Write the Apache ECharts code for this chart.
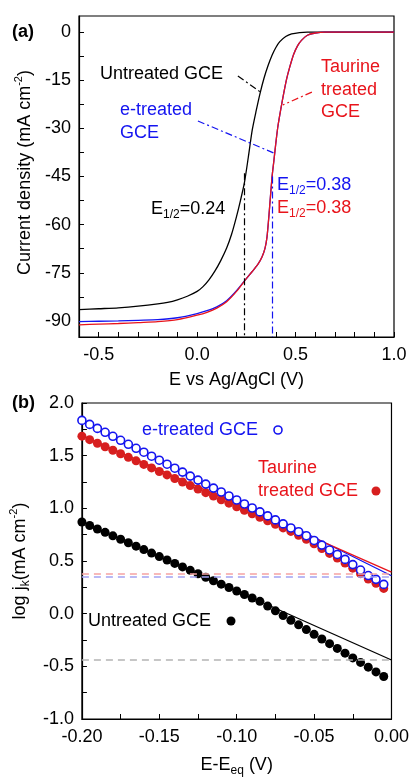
<!DOCTYPE html>
<html lang="en">
<head>
    <meta charset="UTF-8">
    <title>LSV and Tafel plots</title>
    <script src="https://cdn.jsdelivr.net/npm/echarts@6/dist/echarts.min.js"></script>
    <style>
        body { margin: 0; padding: 0; background: #fff; }
        #chart { width: 412px; height: 778px; }
    </style>
</head>
<body>
<div id="chart"></div>
<script>
    // (a) LSV curves, potential in V vs Ag/AgCl, current density in mA cm-2
    const untreatedE = [-0.6, -0.5, -0.4, -0.3, -0.2, -0.15, -0.1, -0.05, 0, 0.03, 0.06, 0.09, 0.12, 0.15, 0.175, 0.2, 0.22, 0.24, 0.26, 0.28, 0.3, 0.32, 0.34, 0.36, 0.38, 0.4, 0.42, 0.45, 0.48, 0.52, 0.56, 0.6, 0.8, 1.0];
    const untreatedJ = [-86.5, -86.2, -85.9, -85.4, -84.7, -84.2, -83.4, -82.3, -80.8, -79.3, -77.2, -74.5, -71.2, -67.3, -63.0, -57.5, -52.5, -47.0, -39.0, -30.5, -24.5, -19.0, -14.3, -10.5, -7.3, -4.8, -3.0, -1.4, -0.6, -0.15, 0, 0, 0, 0];

    const sweepE = [-0.6, -0.5, -0.4, -0.3, -0.2, -0.1, 0, 0.05, 0.1, 0.15, 0.2, 0.25, 0.28, 0.31, 0.33, 0.345, 0.355, 0.365, 0.38, 0.39, 0.4, 0.41, 0.425, 0.44, 0.455, 0.47, 0.49, 0.51, 0.53, 0.56, 0.6, 0.65, 0.8, 1.0];
    const etreatedJ = [-90.2, -90.1, -90.0, -89.8, -89.6, -89.0, -87.7, -86.8, -85.6, -83.7, -80.6, -76.8, -74.6, -72.2, -70.0, -67.3, -63.8, -57.0, -45.5, -40.0, -34.5, -29.5, -24.0, -19.0, -14.5, -11.0, -7.0, -4.3, -2.6, -1.0, -0.3, 0, 0, 0];
    const taurineJ = [-91.2, -91.0, -90.8, -90.5, -90.2, -89.6, -88.2, -87.3, -86.0, -84.0, -80.8, -76.8, -74.6, -72.2, -70.0, -67.3, -63.8, -57.0, -45.5, -40.0, -34.5, -29.5, -24.0, -19.0, -14.5, -11.0, -7.0, -4.3, -2.6, -1.0, -0.3, 0, 0, 0];

    const halfWave = { untreated: 0.24, treated: 0.38 };

    // (b) kinetic current, E - Eeq in V
    const kineticE = [-0.200, -0.195, -0.190, -0.185, -0.180, -0.175, -0.170, -0.165, -0.160, -0.155,
                      -0.150, -0.145, -0.140, -0.135, -0.130, -0.125, -0.120, -0.115, -0.110, -0.105,
                      -0.100, -0.095, -0.090, -0.085, -0.080, -0.075, -0.070, -0.065, -0.060, -0.055,
                      -0.050, -0.045, -0.040, -0.035, -0.030, -0.025, -0.020, -0.015, -0.010, -0.005];
    const etreatedLogJ = [1.835, 1.797, 1.759, 1.722, 1.684, 1.646, 1.608, 1.570, 1.533, 1.495,
                          1.457, 1.419, 1.381, 1.344, 1.306, 1.268, 1.230, 1.192, 1.155, 1.117,
                          1.079, 1.041, 1.003, 0.966, 0.928, 0.890, 0.852, 0.814, 0.778, 0.740,
                          0.695, 0.651, 0.605, 0.562, 0.515, 0.466, 0.414, 0.362, 0.326, 0.278];
    const taurineLogJ = [1.685, 1.652, 1.618, 1.585, 1.551, 1.518, 1.484, 1.451, 1.417, 1.384,
                         1.350, 1.317, 1.283, 1.250, 1.216, 1.183, 1.149, 1.116, 1.082, 1.049,
                         1.015, 0.982, 0.948, 0.915, 0.881, 0.848, 0.814, 0.781, 0.745, 0.706,
                         0.663, 0.618, 0.572, 0.528, 0.481, 0.432, 0.380, 0.328, 0.288, 0.240];
    const untreatedLogJ = [0.870, 0.837, 0.804, 0.772, 0.739, 0.706, 0.673, 0.641, 0.608, 0.575,
                           0.542, 0.510, 0.477, 0.444, 0.411, 0.379, 0.346, 0.313, 0.280, 0.248,
                           0.215, 0.182, 0.149, 0.117, 0.072, 0.027, -0.018, -0.063, -0.106, -0.151,
                           -0.196, -0.241, -0.285, -0.330, -0.375, -0.420, -0.463, -0.508, -0.553, -0.597];

    // Tafel fit lines (ends at -0.20 and 0.00 V) and the level of each fit at E = Eeq
    const fitE = [-0.2, 0];
    const etreatedFit = [1.82, 0.36];
    const taurineFit = [1.69, 0.395];
    const untreatedFit = [0.87, -0.44];
    const eqLevels = { etreated: 0.35, taurine: 0.383, untreated: -0.44 };

    const FONT = 'Liberation Sans, Arial, sans-serif';
    const RED = '#e8141b';
    const BLUE = '#1414f0';
    const dashDot = [7, 3, 2, 3];

    const pairs = (xs, ys) => xs.map((x, i) => [x, ys[i]]);
    const everyHalf = (v, digits) => Math.abs(v * 2 - Math.round(v * 2)) < 1e-6 ? v.toFixed(digits) : '';

    const tickLabel = { color: '#000', fontSize: 18, fontFamily: FONT };
    const axisLine = { show: true, onZero: false, lineStyle: { color: '#000', width: 1.2 } };
    const nameRich = {
        m: { fontSize: 18, fontFamily: FONT, color: '#000', lineHeight: 24 },
        sup: { fontSize: 11, fontFamily: FONT, color: '#000', verticalAlign: 'top', lineHeight: 11 },
        sub: { fontSize: 12, fontFamily: FONT, color: '#000', verticalAlign: 'bottom', lineHeight: 12 }
    };

    function subText(color) {
        return {
            m: { fontSize: 18, fontFamily: FONT, fill: color, lineHeight: 24 },
            s: { fontSize: 12, fontFamily: FONT, fill: color, verticalAlign: 'bottom', lineHeight: 12 }
        };
    }

    const chart = echarts.init(document.getElementById('chart'), null, { renderer: 'canvas' });

    const option = {
        animation: false,
        backgroundColor: '#fff',
        grid: [
            { left: 79, top: 16, width: 315, height: 321, show: true, borderColor: '#000', borderWidth: 1.2 },
            { left: 79, top: 403, width: 315, height: 321, show: true, borderColor: '#000', borderWidth: 1.2 }
        ],
        xAxis: [
            {
                gridIndex: 0, type: 'value', min: -0.6, max: 1.0, interval: 0.1,
                axisLine: axisLine,
                axisTick: { inside: true, length: 5, lineStyle: { color: '#000' } },
                axisLabel: Object.assign({ margin: 9, formatter: v => everyHalf(v, 1) }, tickLabel),
                splitLine: { show: false },
                name: 'E vs Ag/AgCl (V)', nameLocation: 'middle', nameGap: 34,
                nameTextStyle: { fontSize: 18, fontFamily: FONT, color: '#000' }
            },
            {
                gridIndex: 1, type: 'value', min: -0.2, max: 0, interval: 0.025,
                axisLine: axisLine,
                axisTick: { inside: true, length: 5, lineStyle: { color: '#000' } },
                axisLabel: Object.assign({ margin: 9, formatter: v => everyHalf(v * 10, 2) && (Math.abs(v) < 1e-9 ? '0.00' : v.toFixed(2)) }, tickLabel),
                splitLine: { show: false },
                name: '{m|E-E}{sub|eq}{m| (V)}', nameLocation: 'middle', nameGap: 34,
                nameTextStyle: { rich: nameRich }
            }
        ],
        yAxis: [
            {
                gridIndex: 0, type: 'value', min: -95, max: 5,
                axisLine: axisLine,
                axisTick: { inside: true, length: 5, lineStyle: { color: '#000' },
                            customValues: [0, -7.5, -15, -22.5, -30, -37.5, -45, -52.5, -60, -67.5, -75, -82.5, -90] },
                axisLabel: Object.assign({ margin: 8, customValues: [0, -15, -30, -45, -60, -75, -90] }, tickLabel),
                splitLine: { show: false },
                name: '{m|Current density (mA cm}{sup|-2}{m|)}', nameLocation: 'middle', nameGap: 42,
                nameTextStyle: { rich: nameRich, padding: [0, 0, 0, 8] }
            },
            {
                gridIndex: 1, type: 'value', min: -1, max: 2, interval: 0.25,
                axisLine: axisLine,
                axisTick: { inside: true, length: 5, lineStyle: { color: '#000' } },
                axisLabel: Object.assign({ margin: 8, formatter: v => everyHalf(v, 1) }, tickLabel),
                splitLine: { show: false },
                name: '{m|log j}{sub|k}{m|(mA cm}{sup|-2}{m|)}', nameLocation: 'middle', nameGap: 42,
                nameTextStyle: { rich: nameRich }
            }
        ],
        series: [
            // panel (a)
            {
                name: 'Untreated GCE', type: 'line', xAxisIndex: 0, yAxisIndex: 0,
                data: pairs(untreatedE, untreatedJ), showSymbol: false, smooth: 0.25,
                lineStyle: { color: '#000', width: 1.3 },
                markLine: {
                    symbol: 'none', silent: true, label: { show: false },
                    lineStyle: { color: '#000', width: 1.2, type: dashDot },
                    data: [
                        [{ coord: [0.207, -13.7] }, { coord: [0.329, -19.0] }],
                        [{ coord: [halfWave.untreated, -44] }, { coord: [halfWave.untreated, -95] }]
                    ]
                }
            },
            {
                name: 'e-treated GCE', type: 'line', xAxisIndex: 0, yAxisIndex: 0,
                data: pairs(sweepE, etreatedJ), showSymbol: false, smooth: 0.25,
                lineStyle: { color: BLUE, width: 1.3 },
                markLine: {
                    symbol: 'none', silent: true, label: { show: false },
                    lineStyle: { color: BLUE, width: 1.2, type: dashDot },
                    data: [
                        [{ coord: [0.004, -27.7] }, { coord: [0.39, -37.7] }],
                        [{ coord: [halfWave.treated, -45] }, { coord: [halfWave.treated, -95] }]
                    ]
                }
            },
            {
                name: 'Taurine treated GCE', type: 'line', xAxisIndex: 0, yAxisIndex: 0,
                data: pairs(sweepE, taurineJ), showSymbol: false, smooth: 0.25,
                lineStyle: { color: RED, width: 1.3 },
                markLine: {
                    symbol: 'none', silent: true, label: { show: false },
                    lineStyle: { color: RED, width: 1.2, type: dashDot },
                    data: [[{ coord: [0.583, -18.7] }, { coord: [0.436, -22.7] }]]
                }
            },
            // panel (b) fit lines and reference levels
            {
                type: 'line', xAxisIndex: 1, yAxisIndex: 1, z: 1,
                data: pairs(fitE, untreatedFit), showSymbol: false,
                lineStyle: { color: '#000', width: 1.3 },
                markLine: {
                    symbol: 'none', silent: true, label: { show: false },
                    data: [
                        { yAxis: eqLevels.untreated, lineStyle: { color: '#b4b4b4', width: 1.5, type: [7, 5] } },
                        { yAxis: eqLevels.taurine, lineStyle: { color: '#f5a3a3', width: 1.5, type: [7, 5] } },
                        { yAxis: eqLevels.etreated, lineStyle: { color: '#a3a3f2', width: 1.5, type: [7, 5] } }
                    ]
                }
            },
            {
                type: 'line', xAxisIndex: 1, yAxisIndex: 1, z: 1,
                data: pairs(fitE, etreatedFit), showSymbol: false,
                lineStyle: { color: BLUE, width: 1.3 }
            },
            {
                type: 'line', xAxisIndex: 1, yAxisIndex: 1, z: 1,
                data: pairs(fitE, taurineFit), showSymbol: false,
                lineStyle: { color: RED, width: 1.3 }
            },
            // panel (b) points
            {
                type: 'scatter', xAxisIndex: 1, yAxisIndex: 1, z: 3,
                data: pairs(kineticE, untreatedLogJ), symbolSize: 9,
                itemStyle: { color: '#000', opacity: 1 }
            },
            {
                type: 'scatter', xAxisIndex: 1, yAxisIndex: 1, z: 3,
                data: pairs(kineticE, taurineLogJ), symbolSize: 9,
                itemStyle: { color: '#d71f1f', opacity: 1 }
            },
            {
                type: 'scatter', xAxisIndex: 1, yAxisIndex: 1, z: 4,
                data: pairs(kineticE, etreatedLogJ), symbolSize: 8,
                itemStyle: { color: '#fff', borderColor: BLUE, borderWidth: 1.6, opacity: 1 }
            }
        ],
        graphic: [
            { type: 'text', x: 12, y: 32, style: { text: '(a)', font: 'bold 18px ' + FONT, fill: '#000', textVerticalAlign: 'middle' } },
            { type: 'text', x: 12, y: 403, style: { text: '(b)', font: 'bold 18px ' + FONT, fill: '#000', textVerticalAlign: 'middle' } },

            { type: 'text', x: 100, y: 74, style: { text: 'Untreated GCE', font: '18px ' + FONT, fill: '#000', textVerticalAlign: 'middle' } },
            { type: 'text', x: 321, y: 56, style: { text: 'Taurine\ntreated\nGCE', font: '18px ' + FONT, fill: RED, lineHeight: 22.5, textVerticalAlign: 'top' } },
            { type: 'text', x: 120, y: 99, style: { text: 'e-treated\nGCE', font: '18px ' + FONT, fill: BLUE, lineHeight: 22.5, textVerticalAlign: 'top' } },
            { type: 'text', x: 277, y: 185, style: { text: '{m|E}{s|1/2}{m|=0.38}', rich: subText(BLUE), textVerticalAlign: 'middle' } },
            { type: 'text', x: 277, y: 208, style: { text: '{m|E}{s|1/2}{m|=0.38}', rich: subText(RED), textVerticalAlign: 'middle' } },
            { type: 'text', x: 151, y: 209, style: { text: '{m|E}{s|1/2}{m|=0.24}', rich: subText('#000'), textVerticalAlign: 'middle' } },

            { type: 'text', x: 142, y: 430, style: { text: 'e-treated GCE', font: '18px ' + FONT, fill: BLUE, textVerticalAlign: 'middle' } },
            { type: 'circle', shape: { cx: 278, cy: 430, r: 4 }, style: { fill: '#fff', stroke: BLUE, lineWidth: 1.6 } },
            { type: 'text', x: 258, y: 457, style: { text: 'Taurine\ntreated GCE', font: '18px ' + FONT, fill: RED, lineHeight: 23, textVerticalAlign: 'top' } },
            { type: 'circle', shape: { cx: 376, cy: 491, r: 4.5 }, style: { fill: '#d71f1f' } },
            { type: 'text', x: 88, y: 621, style: { text: 'Untreated GCE', font: '18px ' + FONT, fill: '#000', textVerticalAlign: 'middle' } },
            { type: 'circle', shape: { cx: 231, cy: 621, r: 4.5 }, style: { fill: '#000' } }
        ]
    };

    chart.setOption(option);
</script>
</body>
</html>
